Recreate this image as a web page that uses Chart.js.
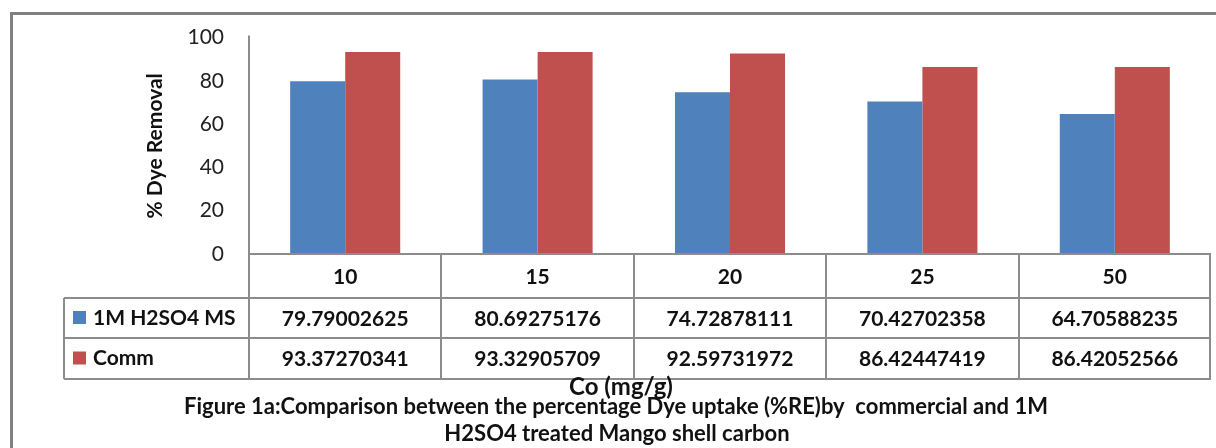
<!DOCTYPE html>
<html>
<head>
<meta charset="utf-8">
<script src="https://cdn.jsdelivr.net/npm/chart.js@4/dist/chart.umd.min.js"></script>
<style>
	html, body { margin: 0; padding: 0; background: #fff; }
	#wrap { width: 1216px; height: 448px; position: relative; }
</style>
</head>
<body>
<div id="wrap"><canvas id="chart-re"></canvas></div>
<script>
const categories = ['10', '15', '20', '25', '50'];
const acidValues = [79.79002625, 80.69275176, 74.72878111, 70.42702358, 64.70588235];
const commValues = [93.37270341, 93.32905709, 92.59731972, 86.42447419, 86.42052566];
const acidLabels = ['79.79002625', '80.69275176', '74.72878111', '70.42702358', '64.70588235'];
const commLabels = ['93.37270341', '93.32905709', '92.59731972', '86.42447419', '86.42052566'];
const seriesNames = ['1M H2SO4 MS', 'Comm'];
const yTicks = [0, 20, 40, 60, 80, 100];

const FONT = 'Lato, "Open Sans", sans-serif';
const GRID = '#8c8c8c';

// frame, data table, axis title and caption
const tablePlugin = {
	id: 'tablePlugin',
	beforeDraw(chart) {
		const c = chart.ctx;
		c.save();
		c.fillStyle = '#fff';
		c.fillRect(0, 0, chart.width, chart.height);
		c.strokeStyle = '#808080';
		c.lineWidth = 3;
		c.strokeRect(11.5, 13.5, 1300, 500);
		c.restore();
	},
	afterDraw(chart) {
		const c = chart.ctx;
		const xs = chart.scales.x;
		const left = chart.chartArea.left;
		const right = chart.chartArea.right;
		const base = chart.chartArea.bottom;
		const rows = [base, 298, 338, 379];
		const legendLeft = 64;
		const step = (right - left) / categories.length;

		c.save();
		c.strokeStyle = GRID;
		c.lineWidth = 2;
		c.beginPath();
		c.moveTo(left, rows[0]); c.lineTo(right, rows[0]);
		for (let r = 1; r < rows.length; r++) {
			c.moveTo(legendLeft, rows[r]); c.lineTo(right, rows[r]);
		}
		c.moveTo(left, chart.chartArea.top - 2); c.lineTo(left, rows[3]);
		c.moveTo(legendLeft, rows[1]); c.lineTo(legendLeft, rows[3]);
		for (let i = 1; i <= categories.length; i++) {
			const x = Math.round(left + step * i) - (i === categories.length ? 1 : 0);
			c.moveTo(x, rows[0]); c.lineTo(x, rows[3]);
		}
		c.stroke();

		c.fillStyle = '#111';
		c.textAlign = 'center';
		c.textBaseline = 'middle';
		c.font = 'bold 21px ' + FONT;
		categories.forEach((cat, i) => {
			const x = xs.getPixelForValue(i);
			c.fillText(cat, x, (rows[0] + rows[1]) / 2 + 1);
			c.fillText(acidLabels[i], x, (rows[1] + rows[2]) / 2 + 1);
			c.fillText(commLabels[i], x, (rows[2] + rows[3]) / 2 + 1);
		});

		// legend keys
		const colors = chart.data.datasets.map(d => d.backgroundColor);
		c.textAlign = 'left';
		seriesNames.forEach((name, k) => {
			const yc = (rows[k + 1] + rows[k + 2]) / 2;
			c.fillStyle = colors[k];
			c.fillRect(73, yc - 7, 13, 13);
			c.fillStyle = '#111';
			c.fillText(name, 93, yc);
		});

		c.textAlign = 'center';
		c.font = 'bold 24px ' + FONT;
		c.fillText('Co (mg/g)', 621, 387);
		c.font = 'bold 22px ' + FONT;
		c.fillText('Figure 1a:Comparison between the percentage Dye uptake (%RE)by  commercial and 1M', 616, 407);
		c.fillText('H2SO4 treated Mango shell carbon', 617, 434);
		c.restore();
	}
};

const config = {
	type: 'bar',
	data: {
		labels: categories,
		datasets: [
			{ label: seriesNames[0], data: acidValues, backgroundColor: '#4F81BD' },
			{ label: seriesNames[1], data: commValues, backgroundColor: '#C0504D' }
		]
	},
	options: {
		responsive: true,
		maintainAspectRatio: false,
		animation: false,
		datasets: {
			bar: { categoryPercentage: 0.572, barPercentage: 1.0 }
		},
		layout: {
			padding: { left: 135, right: 5, top: 36, bottom: 194 }
		},
		plugins: {
			legend: { display: false },
			tooltip: { enabled: false }
		},
		scales: {
			x: {
				display: false
			},
			y: {
				min: 0,
				max: 100,
				afterFit(scale) { scale.width = 114; },
				afterBuildTicks(scale) { scale.ticks = yTicks.map(v => ({ value: v })); },
				grid: { display: false, drawTicks: false },
				border: { display: true, color: GRID, width: 2 },
				ticks: {
					color: '#222',
					padding: 25,
					font: { family: FONT, size: 21 }
				},
				title: {
					display: true,
					text: '% Dye Removal',
					color: '#111',
					padding: { top: 8, bottom: 0 },
					font: { family: FONT, size: 21, weight: 'bold' }
				}
			}
		}
	},
	plugins: [tablePlugin]
};

document.addEventListener('DOMContentLoaded', () => {
	const ctx = document.getElementById('chart-re');
	const chartRe = new Chart(ctx, config);
});
</script>
</body>
</html>
